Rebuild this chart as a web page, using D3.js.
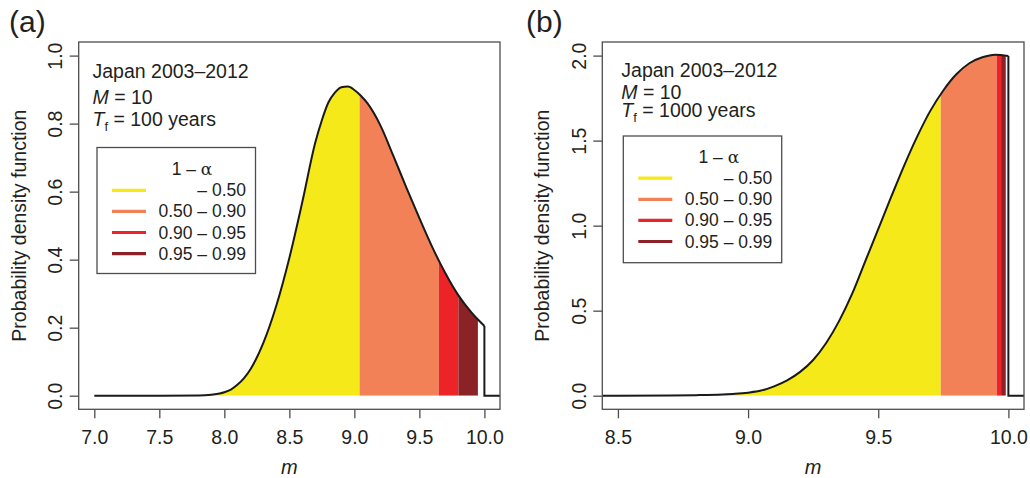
<!DOCTYPE html>
<html>
<head>
<meta charset="utf-8">
<script src="https://cdnjs.cloudflare.com/ajax/libs/d3/7.8.5/d3.min.js"></script>
<style>
  body { margin: 0; background: #fff; }
  svg text { font-family: "Liberation Sans", Arial, Helvetica, sans-serif; fill: #231f20; }
</style>
</head>
<body>
<svg></svg>
<script>
// panel (a): Tf = 100 years
var mA   = [7.0, 7.5, 7.8, 7.9, 8.0, 8.05, 8.1, 8.15, 8.2, 8.3, 8.4, 8.5, 8.6, 8.7, 8.75, 8.8, 8.85, 8.9, 8.95, 9.0, 9.05, 9.1, 9.2, 9.3, 9.4, 9.5, 9.6, 9.7, 9.8, 9.9, 9.95, 10.0];
var pdfA = [0, 0, 0.0005, 0.003, 0.01, 0.018, 0.032, 0.051, 0.077, 0.155, 0.265, 0.405, 0.57, 0.745, 0.81, 0.862, 0.891, 0.907, 0.909, 0.899, 0.882, 0.86, 0.795, 0.705, 0.612, 0.522, 0.436, 0.36, 0.295, 0.245, 0.224, 0.205];
var quantA = [9.04, 9.65, 9.80, 9.95];
var xTicksA = [7.0, 7.5, 8.0, 8.5, 9.0, 9.5, 10.0];
var yTicksA = [0.0, 0.2, 0.4, 0.6, 0.8, 1.0];

// panel (b): Tf = 1000 years
var mB   = [8.3, 8.5, 8.7, 8.8, 8.9, 8.95, 9.0, 9.05, 9.1, 9.15, 9.2, 9.25, 9.3, 9.35, 9.4, 9.45, 9.5, 9.55, 9.6, 9.65, 9.7, 9.75, 9.8, 9.85, 9.9, 9.95, 10.0];
var pdfB = [0, 0, 0.001, 0.003, 0.007, 0.011, 0.018, 0.03, 0.055, 0.09, 0.14, 0.21, 0.31, 0.44, 0.6, 0.79, 0.98, 1.17, 1.355, 1.525, 1.675, 1.795, 1.89, 1.955, 1.99, 2.005, 1.998];
var quantB = [9.74, 9.955, 9.972, 9.99];
var xTicksB = [8.5, 9.0, 9.5, 10.0];
var yTicksB = [0.0, 0.5, 1.0, 1.5, 2.0];

// legend
var bandLabels = ["\u2013 0.50", "0.50 \u2013 0.90", "0.90 \u2013 0.95", "0.95 \u2013 0.99"];
var bandColors = ["#f5e919", "#f28157", "#ec2428", "#8b2326"];

var svg = d3.select("svg").attr("width", 1030).attr("height", 478);

function drawPanel(p) {
	var box = p.box;
	var g = svg.append("g");

	// R style 4% extension of the data range
	var xr = p.xRange, yr = p.yRange;
	var dx = (xr[1] - xr[0]) * 0.04, dy = (yr[1] - yr[0]) * 0.04;
	var x = d3.scaleLinear().domain([xr[0] - dx, xr[1] + dx]).range([box.left, box.right]);
	var y = d3.scaleLinear().domain([yr[0] - dy, yr[1] + dy]).range([box.bottom, box.top]);

	var pts = p.m.map(function(d, i) { return {m: d, p: p.pdf[i]}; });

	var defs = g.append("defs");
	defs.append("clipPath").attr("id", "plot-" + p.id)
	  .append("rect")
	  .attr("x", box.left).attr("y", box.top)
	  .attr("width", box.right - box.left).attr("height", box.bottom - box.top);

	var area = d3.area()
	  .x(function(d) { return x(d.m); })
	  .y0(y(0))
	  .y1(function(d) { return y(d.p); })
	  .curve(d3.curveMonotoneX);

	//Coloured bands under the curve
	p.quant.forEach(function(q, i) {
		var lo = i == 0 ? p.m[0] : p.quant[i - 1];
		defs.append("clipPath").attr("id", "band-" + p.id + i)
		  .append("rect")
		  .attr("x", x(lo)).attr("y", box.top)
		  .attr("width", x(q) - x(lo)).attr("height", y(0) - box.top);
		g.append("path")
		  .datum(pts)
		  .attr("clip-path", "url(#band-" + p.id + i + ")")
		  .attr("fill", bandColors[i])
		  .attr("d", area);
	});

	//pdf curve
	var line = d3.line()
	  .x(function(d) { return x(d.m); })
	  .y(function(d) { return y(d.p); })
	  .curve(d3.curveMonotoneX);
	var lines = g.append("g").attr("clip-path", "url(#plot-" + p.id + ")");
	lines.append("path")
	  .datum(pts)
	  .attr("fill", "none").attr("stroke", "#1a1a1a").attr("stroke-width", 2)
	  .attr("d", line);
	var last = pts[pts.length - 1];
	var tail = [last, {m: last.m, p: 0}, {m: xr[1] + 2 * dx, p: 0}];
	lines.append("path")
	  .datum(tail)
	  .attr("fill", "none").attr("stroke", "#1a1a1a").attr("stroke-width", 2)
	  .attr("d", d3.line().x(function(d) { return x(d.m); }).y(function(d) { return y(d.p); }));

	//Box
	g.append("rect")
	  .attr("x", box.left).attr("y", box.top)
	  .attr("width", box.right - box.left).attr("height", box.bottom - box.top)
	  .attr("fill", "none").attr("stroke", "#4d4d4d").attr("stroke-width", 1.3);

	//X axis
	var xa = g.append("g")
	  .attr("transform", "translate(0," + box.bottom + ")")
	  .call(d3.axisBottom(x).tickValues(p.xTicks).tickSize(9).tickFormat(d3.format(".1f")));
	xa.select(".domain").remove();
	xa.selectAll("line").attr("stroke", "#4d4d4d").attr("stroke-width", 1.3);
	xa.selectAll("text")
	  .attr("y", 34.7).attr("dy", 0)
	  .style("font-size", "19.5px")
	  .style("font-family", "\"Liberation Sans\", Arial, sans-serif")
	  .attr("fill", "#231f20");

	g.append("text")
	  .attr("x", (box.left + box.right) / 2).attr("y", 474)
	  .attr("text-anchor", "middle")
	  .style("font-size", "20px").style("font-style", "italic")
	  .text("m");

	//Y axis with rotated labels
	var ya = g.append("g")
	  .attr("transform", "translate(" + box.left + ",0)")
	  .call(d3.axisLeft(y).tickValues(p.yTicks).tickSize(9).tickFormat(d3.format(".1f")));
	ya.select(".domain").remove();
	ya.selectAll("line").attr("stroke", "#4d4d4d").attr("stroke-width", 1.3);
	ya.selectAll("text")
	  .attr("x", 0).attr("y", -16.7).attr("dy", 0)
	  .attr("transform", "rotate(-90)")
	  .attr("text-anchor", "middle")
	  .style("font-size", "19.5px")
	  .style("font-family", "\"Liberation Sans\", Arial, sans-serif")
	  .attr("fill", "#231f20");

	g.append("text")
	  .attr("transform", "translate(" + (box.left - 53) + "," + ((box.top + box.bottom) / 2) + ") rotate(-90)")
	  .attr("text-anchor", "middle")
	  .style("font-size", "19.5px")
	  .text("Probability density function");

	//Panel tag
	g.append("text")
	  .attr("x", p.tagX).attr("y", 32)
	  .style("font-size", "30px")
	  .text(p.tag);

	//Annotation
	var ann = p.ann;
	g.append("text").attr("x", ann.x).attr("y", ann.y[0])
	  .style("font-size", "19.5px").text("Japan 2003\u20132012");
	var t2 = g.append("text").attr("x", ann.x).attr("y", ann.y[1]).style("font-size", "19.5px");
	t2.append("tspan").style("font-style", "italic").text("M");
	t2.append("tspan").text(" = 10");
	var t3 = g.append("text").attr("x", ann.x).attr("y", ann.y[2]).style("font-size", "19.5px");
	t3.append("tspan").style("font-style", "italic").text("T");
	t3.append("tspan").attr("dy", 5).style("font-size", "13px").text("f");
	t3.append("tspan").attr("dy", -5).text(" = " + p.tf + " years");

	//Legend
	var lg = p.legend;
	g.append("rect")
	  .attr("x", lg.x).attr("y", lg.y).attr("width", lg.w).attr("height", lg.h)
	  .attr("fill", "#fff").attr("stroke", "#4d4d4d").attr("stroke-width", 1.3);
	var lt = g.append("text")
	  .attr("x", lg.x + lg.titleX).attr("y", lg.y + lg.titleY)
	  .attr("text-anchor", "middle")
	  .style("font-size", "17.5px");
	lt.append("tspan").text("1 \u2013 ");
	lt.append("tspan").style("font-family", "\"DejaVu Serif\", serif").style("font-size", "17px").text("\u03b1");

	bandLabels.forEach(function(lab, i) {
		var by = lg.y + lg.row0 + i * lg.rowStep;
		g.append("line")
		  .attr("x1", lg.x + 15).attr("x2", lg.x + 49)
		  .attr("y1", by - 6).attr("y2", by - 6)
		  .attr("stroke", bandColors[i]).attr("stroke-width", 3.2);
		g.append("text")
		  .attr("x", lg.x + 149).attr("y", by)
		  .attr("text-anchor", "end")
		  .style("font-size", "17.5px")
		  .text(lab);
	});
}

drawPanel({
	id: "a", tag: "(a)", tagX: 9, tf: 100,
	m: mA, pdf: pdfA, quant: quantA, xTicks: xTicksA, yTicks: yTicksA,
	xRange: [7, 10], yRange: [0, 1],
	box: {left: 78.7, right: 500, top: 42, bottom: 409.3},
	ann: {x: 92.5, y: [78, 104, 126]},
	legend: {x: 97, y: 147.5, w: 158.5, h: 126, titleX: 95, titleY: 27.5, row0: 48.8, rowStep: 21.1}
});

drawPanel({
	id: "b", tag: "(b)", tagX: 526, tf: 1000,
	m: mB, pdf: pdfB, quant: quantB, xTicks: xTicksB, yTicks: yTicksB,
	xRange: [8.5, 10], yRange: [0, 2],
	box: {left: 602.3, right: 1024, top: 42, bottom: 409.3},
	ann: {x: 621.3, y: [77, 98.5, 117]},
	legend: {x: 623.3, y: 136, w: 158.4, h: 126.7, titleX: 95.5, titleY: 26.7, row0: 48.2, rowStep: 21.1}
});
</script>
</body>
</html>
